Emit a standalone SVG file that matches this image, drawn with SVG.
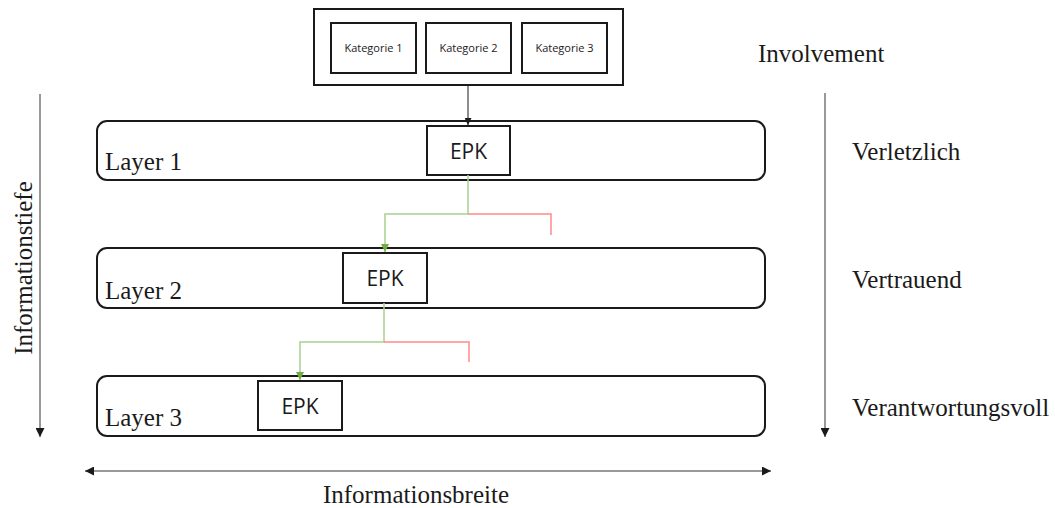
<svg xmlns="http://www.w3.org/2000/svg" width="1055" height="508" viewBox="0 0 1055 508">
<defs>
<style>
.box{fill:#fff;stroke:#1a1a1a;stroke-width:2}
.layer{fill:#fff;stroke:#1a1a1a;stroke-width:2}
.serif{font-family:"Liberation Serif","Times New Roman",serif;font-size:25px;fill:#1a1a1a}
.sans{font-family:"Open Sans","Noto Sans",sans-serif;fill:#1a1a1a}
.axis{stroke:#777;stroke-width:1.5;fill:none}
.green{stroke:#a9d18e;stroke-width:1.5;fill:none}
.red{stroke:#ff8a8a;stroke-width:1.5;fill:none}
</style>
<marker id="ah" viewBox="0 0 10 10" refX="10" refY="5" markerWidth="7" markerHeight="7" markerUnits="userSpaceOnUse" orient="auto"><path d="M0,0 L10,5 L0,10 z" fill="#1a1a1a"/></marker>
<marker id="ahg" viewBox="0 0 10 10" refX="10" refY="5" markerWidth="8" markerHeight="8" markerUnits="userSpaceOnUse" orient="auto"><path d="M0,0 L10,5 L0,10 z" fill="#70ad47"/></marker>
<marker id="ahx" viewBox="0 0 10 10" refX="10" refY="5" markerWidth="9" markerHeight="9" markerUnits="userSpaceOnUse" orient="auto-start-reverse"><path d="M0,0 L10,5 L0,10 z" fill="#1a1a1a"/></marker>
</defs>
<rect width="1055" height="508" fill="#fff"/>

<g id="involvement">
<rect class="box" x="314" y="9" width="309" height="76"/>
<g id="kat1"><rect class="box" x="331" y="23" width="85" height="50"/><text class="sans" x="373.5" y="52" font-size="11" text-anchor="middle">Kategorie 1</text></g>
<g id="kat2"><rect class="box" x="426" y="23" width="85" height="50"/><text class="sans" x="468.5" y="52" font-size="11" text-anchor="middle">Kategorie 2</text></g>
<g id="kat3"><rect class="box" x="522" y="23" width="85" height="50"/><text class="sans" x="564.5" y="52" font-size="11" text-anchor="middle">Kategorie 3</text></g>
</g>

<g id="layer1">
<rect class="layer" x="97" y="121" width="668" height="59" rx="10"/>
<text class="serif" x="105" y="170">Layer 1</text>
</g>
<g id="layer2">
<rect class="layer" x="97" y="248" width="668" height="60" rx="10"/>
<text class="serif" x="105" y="299">Layer 2</text>
</g>
<g id="layer3">
<rect class="layer" x="97" y="376" width="668" height="60" rx="10"/>
<text class="serif" x="105" y="426">Layer 3</text>
</g>

<g id="epk1"><rect class="box" x="427" y="126" width="83" height="49"/><text class="sans" x="468.5" y="159" font-size="21" text-anchor="middle">EPK</text></g>
<g id="epk2"><rect class="box" x="343" y="253" width="84" height="50"/><text class="sans" x="385" y="286" font-size="21" text-anchor="middle">EPK</text></g>
<g id="epk3"><rect class="box" x="258" y="381" width="84" height="49"/><text class="sans" x="300" y="414" font-size="21" text-anchor="middle">EPK</text></g>

<g id="connectors">
<line x1="468" y1="85" x2="468" y2="125" stroke="#1a1a1a" stroke-width="1" marker-end="url(#ah)"/>
<polyline class="green" points="468,175 468,214 385,214 385,252" marker-end="url(#ahg)"/>
<polyline class="red" points="468,214 551,214 551,235"/>
<polyline class="green" points="384,303 384,342 300,342 300,380" marker-end="url(#ahg)"/>
<polyline class="red" points="384,342 469,342 469,362"/>
<line class="axis" x1="40" y1="94" x2="40" y2="437" marker-end="url(#ahx)"/>
<line class="axis" x1="825" y1="93" x2="825" y2="437" marker-end="url(#ahx)"/>
<line class="axis" x1="85" y1="471" x2="771" y2="471" marker-start="url(#ahx)" marker-end="url(#ahx)"/>
</g>

<g id="labels">
<text class="serif" x="758" y="62">Involvement</text>
<text class="serif" x="852" y="160">Verletzlich</text>
<text class="serif" x="852" y="288">Vertrauend</text>
<text class="serif" x="852" y="416">Verantwortungsvoll</text>
<text class="serif" transform="translate(32,268) rotate(-90)" text-anchor="middle" font-size="25.5">Informationstiefe</text>
<text class="serif" x="416" y="503" text-anchor="middle" font-size="25.5">Informationsbreite</text>
</g>
</svg>
